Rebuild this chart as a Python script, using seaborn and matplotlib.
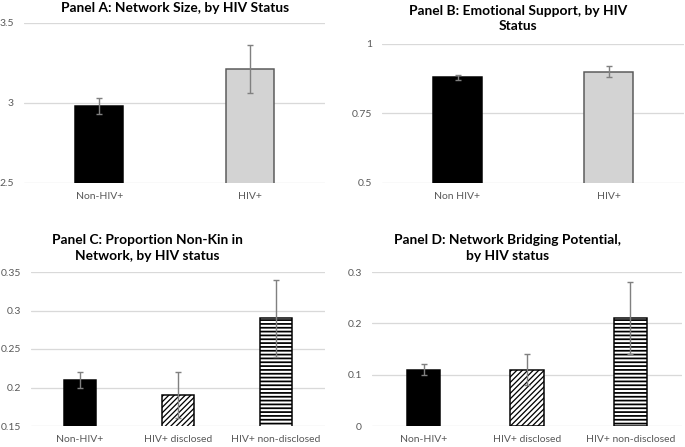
import matplotlib
matplotlib.use("Agg")
import matplotlib.pyplot as plt
import seaborn as sns
import pandas as pd

# ---------------- data ----------------
a_cats = ["Non-HIV+", "HIV+"]
a_vals = [2.98, 3.21]
a_errs = [0.05, 0.15]

b_cats = ["Non HIV+", "HIV+"]
b_vals = [0.88, 0.90]
b_errs = [0.01, 0.02]

c_cats = ["Non-HIV+", "HIV+ disclosed", "HIV+ non-disclosed"]
c_vals = [0.21, 0.19, 0.29]
c_errs = [0.01, 0.03, 0.05]

d_cats = ["Non-HIV+", "HIV+ disclosed", "HIV+ non-disclosed"]
d_vals = [0.11, 0.11, 0.21]
d_errs = [0.01, 0.03, 0.07]

a_ticks = [2.5, 3, 3.5]
a_ticklabels = ["2.5", "3", "3.5"]
b_ticks = [0.5, 0.75, 1]
b_ticklabels = ["0.5", "0.75", "1"]
c_ticks = [0.15, 0.2, 0.25, 0.3, 0.35]
c_ticklabels = ["0.15", "0.2", "0.25", "0.3", "0.35"]
d_ticks = [0, 0.1, 0.2, 0.3]
d_ticklabels = ["0", "0.1", "0.2", "0.3"]

title_a = "Panel A: Network Size, by HIV Status"
title_b = "Panel B: Emotional Support, by HIV\nStatus"
title_c = "Panel C: Proportion Non-Kin in\nNetwork, by HIV status"
title_d = "Panel D: Network Bridging Potential,\nby HIV status"

# ---------------- style ----------------
DPI = 115
W, H = 685, 447
sns.set_theme(style="white")
plt.rcParams["font.family"] = ["Lato", "DejaVu Sans"]
plt.rcParams["hatch.linewidth"] = 0.8
plt.rcParams["hatch.color"] = "black"

fig = plt.figure(figsize=(W / DPI, H / DPI), dpi=DPI)
fig.patch.set_facecolor("white")


def px(v):
    return v * 72.0 / DPI


def make_axes(x0, x1, y0, y1):
    return fig.add_axes([x0 / W, 1 - y1 / H, (x1 - x0) / W, (y1 - y0) / H])


def panel(ax, cats, vals, errs, ylim, ticks, ticklabels, styles):
    df = pd.DataFrame({"cat": cats, "val": vals})
    colors = [s[0] for s in styles]
    sns.barplot(data=df, x="cat", y="val", hue="cat", palette=colors,
                width=0.32, errorbar=None, legend=False, ax=ax,
                saturation=1, zorder=2)
    for patch, (fc, ec, hatch, hlw) in zip(ax.patches, styles):
        patch.set_facecolor(fc)
        patch.set_edgecolor(ec)
        patch.set_linewidth(px(1.5))
        if hatch:
            patch.set_hatch(hatch)
            if hasattr(patch, "set_hatch_linewidth"):
                patch.set_hatch_linewidth(hlw)
    ax.errorbar(range(len(cats)), vals, yerr=errs, fmt="none",
                ecolor="#808080", elinewidth=px(1.4), capsize=px(3.5),
                capthick=px(1.4), zorder=3)
    ax.set_ylim(*ylim)
    ax.set_xlim(-0.5, len(cats) - 0.5)
    ax.set_yticks(ticks)
    ax.set_yticklabels(ticklabels)
    ax.set_xlabel("")
    ax.set_ylabel("")
    ax.yaxis.grid(True, color="#d9d9d9", linewidth=px(1.3), zorder=0)
    ax.xaxis.grid(False)
    ax.set_axisbelow(True)
    for s in ax.spines.values():
        s.set_visible(False)
    ax.tick_params(axis="both", length=0, labelsize=6.5, colors="#595959")
    ax.tick_params(axis="y", pad=px(10))
    ax.tick_params(axis="x", pad=px(9))


solid2 = [("black", "black", None, 0), ("#d3d3d3", "#595959", None, 0)]
solid3 = [("black", "black", None, 0), ("white", "black", "///////", 0.8),
          ("white", "black", "-----", 1.1)]

axA = make_axes(24, 325, 23, 183)
panel(axA, a_cats, a_vals, a_errs, (2.5, 3.5), a_ticks, a_ticklabels, solid2)
axB = make_axes(382, 684, 44, 183)
panel(axB, b_cats, b_vals, b_errs, (0.5, 1.0), b_ticks, b_ticklabels, solid2)
axC = make_axes(31, 325, 272, 426)
panel(axC, c_cats, c_vals, c_errs, (0.15, 0.35), c_ticks, c_ticklabels, solid3)
axD = make_axes(372, 682, 272, 426)
panel(axD, d_cats, d_vals, d_errs, (0, 0.3), d_ticks, d_ticklabels, solid3)

tkw = dict(ha="center", va="center", fontsize=8.6, fontweight="bold",
           color="black", linespacing=1.35)
fig.text(175 / W, 1 - 8.5 / H, title_a, **tkw)
fig.text(518 / W, 1 - 18.5 / H, title_b, **tkw)
fig.text(147 / W, 1 - 248 / H, title_c, **tkw)
fig.text(508 / W, 1 - 248 / H, title_d, **tkw)

fig.savefig("out.png", dpi=DPI, facecolor="white")
